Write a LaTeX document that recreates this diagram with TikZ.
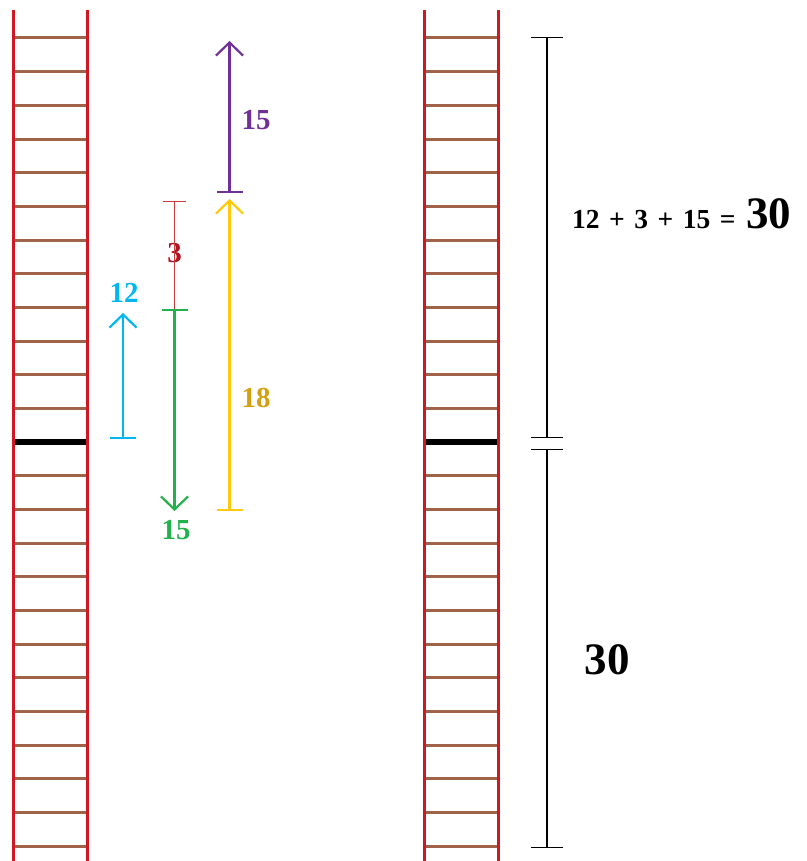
\documentclass[tikz,border=0pt]{standalone}
\usepackage{fontspec}
\setmainfont{Liberation Serif}
\usetikzlibrary{arrows.meta}
\definecolor{railred}{RGB}{208,24,34}
\definecolor{rungbrown}{RGB}{160,98,72}
\definecolor{skyc}{RGB}{0,183,239}
\definecolor{darkred}{RGB}{176,20,32}
\definecolor{thinred}{RGB}{200,60,60}
\definecolor{grassc}{RGB}{34,177,76}
\definecolor{goldc}{RGB}{255,201,14}
\definecolor{goldtext}{RGB}{212,160,18}
\definecolor{plum}{RGB}{111,49,152}
\newcommand{\gap}{\hspace{9.5pt}}
\tikzset{
  rail/.style={draw=railred, line width=3pt},
  rung/.style={draw=rungbrown, line width=3pt},
  midrung/.style={draw=black, line width=5.5pt},
  measure/.style={line width=2.2pt, {Bar[width=26pt]}-{Straight Barb[length=13pt,width=27pt]}},
  span/.style={draw=black, line width=1.4pt, {Bar[width=32pt]}-{Bar[width=32pt]}},
  lbl/.style={font=\bfseries\fontsize{29}{29}\selectfont, inner sep=0pt},
  sumlbl/.style={font=\bfseries, inner sep=0pt, anchor=base west}
}
\begin{document}
\begin{tikzpicture}[x=1pt, y=-1pt]
  \useasboundingbox (0,0) rectangle (806,861);

  % the two ladders
  \foreach \lx in {13,424} {
    \foreach \i in {0,...,24}
      \draw[rung] (\lx,38+33.67*\i) -- (\lx+74,38+33.67*\i);
    \draw[midrung] (\lx,442) -- (\lx+74,442);
    \draw[rail] (\lx,10) -- (\lx,861);
    \draw[rail] (\lx+74,10) -- (\lx+74,861);
  }

  % left: the moves
  \coordinate (cyanbot) at (123,439);
  \coordinate (cyantop) at (123,313);
  \coordinate (redtop) at (174.5,201);
  \coordinate (greentop) at (174.5,309);
  \coordinate (greenbot) at (174.5,511);
  \coordinate (goldbot) at (229.5,511);
  \coordinate (goldtop) at (229.5,199);
  \coordinate (plumbot) at (229.5,193);
  \coordinate (plumtop) at (229.5,41);

  \draw[measure, skyc] (cyanbot) -- (cyantop);
  \node[lbl, skyc] (twelve) at (124,293) {12};

  \node[lbl, darkred] (three) at (174.5,253) {3};
  \draw[thinred, line width=1.2pt, {Bar[width=23pt]}-] (redtop) -- ([yshift=-10pt]three.north);
  \draw[thinred, line width=1.2pt] ([yshift=10pt]three.south) -- (greentop);

  \draw[measure, grassc] (greentop) -- (greenbot);
  \node[lbl, grassc] (fifteena) at (176,530) {15};

  \draw[measure, goldc] (goldbot) -- (goldtop);
  \node[lbl, goldtext] (eighteen) at (256,398) {18};

  \draw[measure, plum] (plumbot) -- (plumtop);
  \node[lbl, plum] (fifteenb) at (256,120) {15};

  % right: the totals
  \coordinate (uptop) at (547,37);
  \coordinate (upbot) at (547,438);
  \coordinate (downtop) at (547,449);
  \coordinate (downbot) at (547,848);
  \draw[span] (uptop) -- (upbot);
  \draw[span] (downtop) -- (downbot);

  \node[sumlbl] (sum) at (572,228) {\fontsize{27.5}{27.5}\selectfont 12\gap+\gap3\gap+\gap15\gap=\hspace{11pt}\fontsize{45}{45}\selectfont 30};
  \node[lbl, font=\bfseries\fontsize{45}{45}\selectfont] (total) at (607,660) {30};
\end{tikzpicture}
\end{document}
